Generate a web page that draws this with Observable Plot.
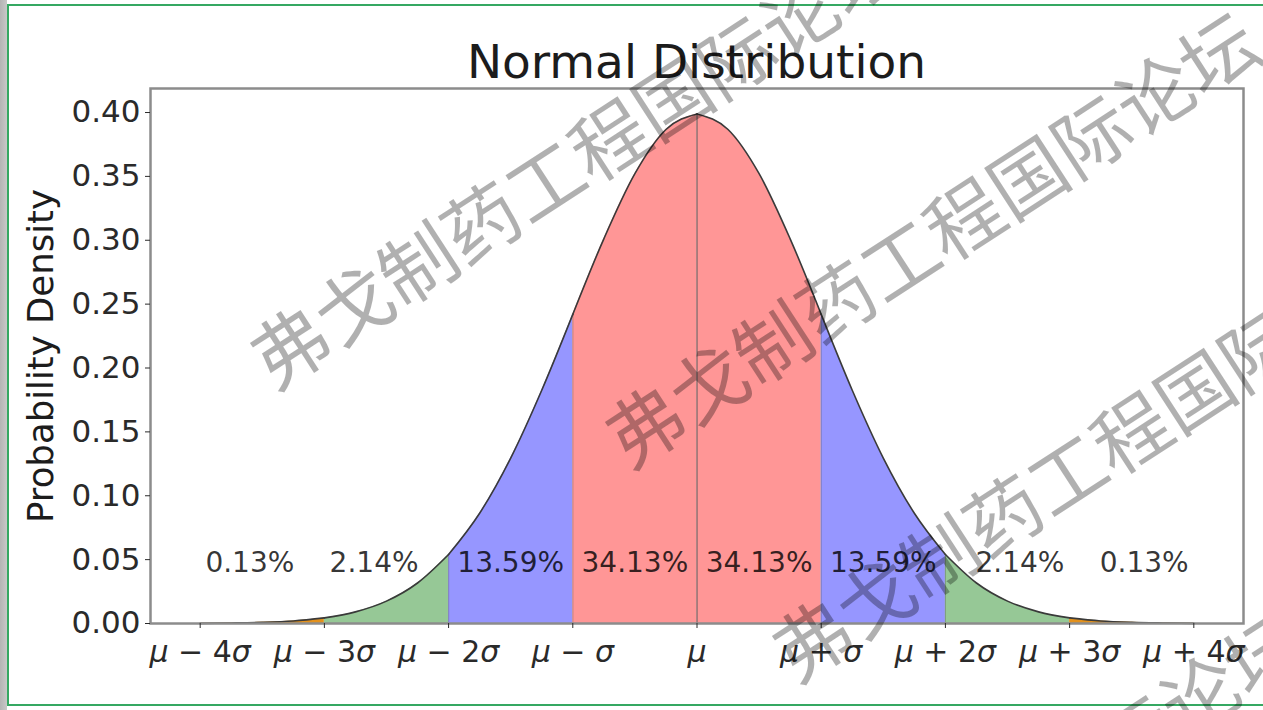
<!DOCTYPE html>
<html>
<head>
<meta charset="utf-8">
<script src="https://cdn.jsdelivr.net/npm/d3@7"></script>
<script src="https://cdn.jsdelivr.net/npm/@observablehq/plot@0.6"></script>
<style>
  html, body { margin: 0; padding: 0; background: #fff; }
  #page { position: relative; width: 1263px; height: 710px; overflow: hidden; background: #fff; font-family: "DejaVu Sans", sans-serif; }
  #shadow { position: absolute; left: 0; top: 0; width: 7px; height: 710px; background: linear-gradient(to right, #b4b4b4, #c8c8c8); }
  #border { position: absolute; left: 7px; top: 4px; width: 1300px; height: 702px; border: 2px solid #35a862; box-sizing: border-box; }
  #title { position: relative; height: 80px; box-sizing: border-box; padding-top: 38px; padding-left: 150px; width: 1243px; text-align: center; font-size: 47px; line-height: 1; color: #1c1c1c; }
  #chart { position: relative; }
  .wm { position: absolute; font-family: "Noto Sans CJK SC", sans-serif; font-size: 76px; line-height: 1; color: rgba(0,0,0,0.31); white-space: nowrap; transform: rotate(-33deg); transform-origin: 0 50%; pointer-events: none; }
</style>
</head>
<body>
<div id="page">
  <div id="shadow"></div>
  <div id="border"></div>
  <div id="title">Normal Distribution</div>
  <div id="chart"></div>
</div>
<script>
// Standard normal density sampled every quarter sigma, from μ−4σ to μ+4σ
const sigmaSteps = [-4, -3.75, -3.5, -3.25, -3, -2.75, -2.5, -2.25, -2, -1.75, -1.5, -1.25, -1, -0.75, -0.5, -0.25, 0,
                    0.25, 0.5, 0.75, 1, 1.25, 1.5, 1.75, 2, 2.25, 2.5, 2.75, 3, 3.25, 3.5, 3.75, 4];
const densities = [0.0001, 0.0004, 0.0009, 0.0020, 0.0044, 0.0091, 0.0175, 0.0317, 0.0540, 0.0863, 0.1295, 0.1826, 0.2420, 0.3011, 0.3521, 0.3867, 0.3989,
                   0.3867, 0.3521, 0.3011, 0.2420, 0.1826, 0.1295, 0.0863, 0.0540, 0.0317, 0.0175, 0.0091, 0.0044, 0.0020, 0.0009, 0.0004, 0.0001];

// Bands between consecutive sigma boundaries and the share of probability in each
const bandEdges = [-4, -3, -2, -1, 0, 1, 2, 3, 4];
const bandShares = ["0.13%", "2.14%", "13.59%", "34.13%", "34.13%", "13.59%", "2.14%", "0.13%"];
// where each share is written along the x axis (in σ units)
const shareLabelAt = [-3.6, -2.6, -1.5, -0.5, 0.5, 1.5, 2.6, 3.6];

// Axis ticks
const xTickValues = [-4, -3, -2, -1, 0, 1, 2, 3, 4];
const xTickLabels = ["μ − 4σ", "μ − 3σ", "μ − 2σ", "μ − σ", "μ", "μ + σ", "μ + 2σ", "μ + 3σ", "μ + 4σ"];
const yTickValues = [0, 0.05, 0.10, 0.15, 0.20, 0.25, 0.30, 0.35, 0.40];

// Fill per distance from the mean (within 1σ, 2σ, 3σ, 4σ)
const ringFill = ["#ff9696", "#9696ff", "#96c896", "#e3911c"];

const rows = sigmaSteps.map((x, i) => ({x, d: densities[i]}));
const densityAt = x => rows.find(r => r.x === x).d;

const bands = bandShares.map((share, k) => {
  const lo = bandEdges[k], hi = bandEdges[k + 1];
  return {
    lo, hi, share,
    labelX: shareLabelAt[k],
    ring: Math.floor(Math.abs((lo + hi) / 2)),
    points: rows.filter(r => r.x >= lo && r.x <= hi)
  };
});

const curve = "monotone-x";

const marks = [];
for (const b of bands) {
  marks.push(Plot.areaY(b.points, {x: "x", y: "d", fill: ringFill[b.ring], curve}));
}
// boundary lines from the axis up to the curve
const innerEdges = bandEdges.filter(e => Math.abs(e) < 3 && e !== 0);
marks.push(Plot.ruleX(innerEdges, {x: d => d, y1: 0, y2: d => densityAt(d), stroke: "#555", strokeOpacity: 0.35, strokeWidth: 1.2}));
marks.push(Plot.ruleX([0], {x: d => d, y1: 0, y2: d => densityAt(d), stroke: "#555", strokeOpacity: 0.65, strokeWidth: 1.5}));
for (const b of bands) {
  marks.push(Plot.line(b.points, {x: "x", y: "d", stroke: "#3a3a3a", strokeWidth: 1.6, curve}));
}
marks.push(Plot.frame({stroke: "#8c8c8c", strokeWidth: 2.5}));
marks.push(Plot.text(bands, {x: "labelX", y: () => 0.04, text: "share", lineAnchor: "bottom", textAnchor: "middle", fontSize: 28, fill: "#000", fillOpacity: 0.8}));
marks.push(Plot.axisY({ticks: yTickValues, tickFormat: d3.format(".2f"), tickSize: 5, tickPadding: 5, fontSize: 31, label: null}));
marks.push(Plot.axisX({ticks: xTickValues, tickFormat: d => xTickLabels[xTickValues.indexOf(d)], tickSize: 5, tickPadding: 12, fontSize: 30, label: null}));
marks.push(Plot.text(["Probability Density"], {frameAnchor: "left", rotate: -90, dx: -98, text: d => d, lineAnchor: "bottom", textAnchor: "middle", fontSize: 35.5, fill: "#1c1c1c"}));

const svg = Plot.plot({
  width: 1263,
  height: 620,
  marginTop: 8,
  marginLeft: 150,
  marginRight: 20,
  marginBottom: 77,
  x: {domain: [-4.4, 4.4]},
  y: {domain: [0, 0.4188]},
  style: {fontFamily: "DejaVu Sans, sans-serif", color: "#2a2a2a", background: "transparent", overflow: "visible"},
  marks
});

// Set μ and σ in italics, as in math typesetting
svg.querySelectorAll('g[aria-label="x-axis tick label"] text').forEach(t => {
  const parts = t.textContent.split(/(μ|σ)/).filter(s => s.length);
  t.textContent = "";
  for (const p of parts) {
    const ts = document.createElementNS("http://www.w3.org/2000/svg", "tspan");
    ts.textContent = p;
    if (p === "μ" || p === "σ") ts.setAttribute("font-style", "italic");
    t.appendChild(ts);
  }
});

document.getElementById("chart").appendChild(svg);

// Repeated diagonal watermark
const wmText = "弗戈制药工程国际论坛";
const wmStarts = [[290, 347], [645, 426], [812, 640], [690, 1026]];
const page = document.getElementById("page");
for (const [cx, cy] of wmStarts) {
  const s = document.createElement("div");
  s.className = "wm";
  s.textContent = wmText;
  s.style.left = (cx - 34) + "px";
  s.style.top = (cy - 21) + "px";
  page.appendChild(s);
}
</script>
</body>
</html>
